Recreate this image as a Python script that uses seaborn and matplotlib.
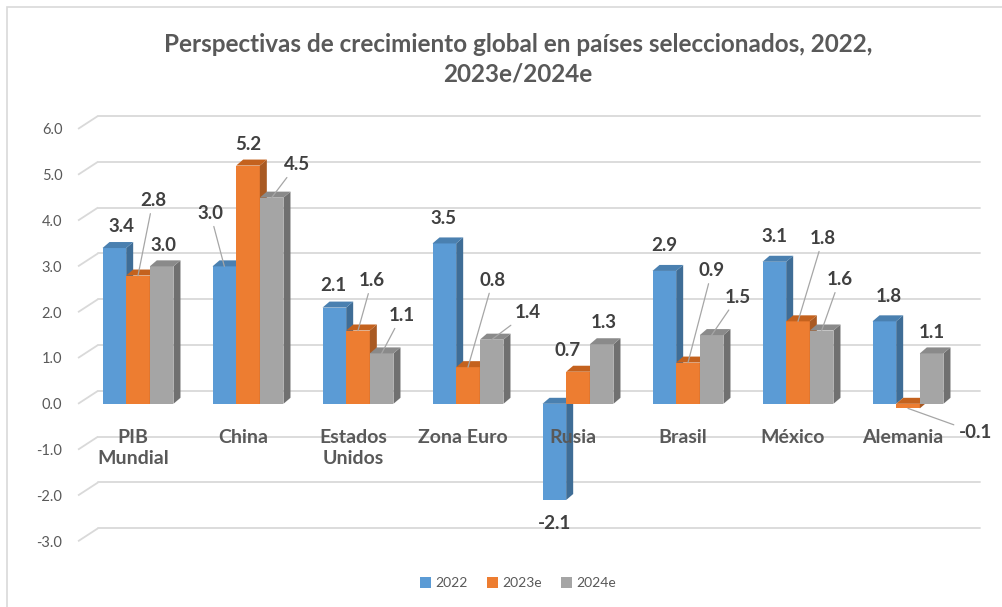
import matplotlib
matplotlib.use("Agg")
import matplotlib.pyplot as plt
from matplotlib.patches import Polygon, Rectangle
import seaborn as sns
import pandas as pd

# ---------------- data ----------------
categories = ["PIB\nMundial", "China", "Estados\nUnidos", "Zona Euro", "Rusia",
              "Brasil", "México", "Alemania"]
series_names = ["2022", "2023e", "2024e"]
v2022 = [3.4, 3.0, 2.1, 3.5, -2.1, 2.9, 3.1, 1.8]
v2023 = [2.8, 5.2, 1.6, 0.8, 0.7, 0.9, 1.8, -0.1]
v2024 = [3.0, 4.5, 1.1, 1.4, 1.3, 1.5, 1.6, 1.1]
yticks = [-3.0, -2.0, -1.0, 0.0, 1.0, 2.0, 3.0, 4.0, 5.0, 6.0]
title = "Perspectivas de crecimiento global en países seleccionados, 2022,\n2023e/2024e"

# label offsets (pixels) relative to bar end, and leader flag
label_offsets = {
    "2022":  [(7, -22, 0), (-14, -53, 1), (-1, -22, 0), (-1, -25, 0), (0, 23, 0),
              (0, -25, 0), (0, -25, 0), (4, -25, 0)],
    "2023e": [(15, -75, 1), (0, -21, 0), (14, -50, 1), (25, -87, 1), (-10, -21, 0),
              (24, -92, 1), (25, -83, 1), (67, 24, 1)],
    "2024e": [(2, -21, 0), (25, -33, 1), (20, -38, 1), (36, -27, 1), (2, -22, 0),
              (26, -38, 1), (18, -51, 1), (0, -21, 0)],
}

colors = {"2022": "#5B9BD5", "2023e": "#ED7D31", "2024e": "#A5A5A5"}
side_colors = {"2022": "#3F6D96", "2023e": "#A95A23", "2024e": "#707070"}
top_colors = {"2022": "#4A80B0", "2023e": "#C4621E", "2024e": "#8A8A8A"}
text_col = "#404040"
axis_text = "#595959"
grid_col = "#D9D9D9"

df = pd.DataFrame({
    "cat": sum([[c] * 3 for c in categories], []),
    "serie": series_names * len(categories),
    "val": sum([[a, b, c] for a, b, c in zip(v2022, v2023, v2024)], []),
})

sns.set_theme(style="white")
plt.rcParams["font.family"] = ["Lato", "DejaVu Sans"]

fig = plt.figure(figsize=(10.03, 6.07), dpi=100)
ax = fig.add_axes([72 / 1003, 52 / 607, (990.5 - 72) / 1003, 449 / 607])

sns.barplot(data=df, x="cat", y="val", hue="serie", order=categories,
            hue_order=series_names, palette=colors, width=0.645,
            saturation=1, ax=ax, legend=False, errorbar=None,
            edgecolor="none", linewidth=0)

ax.set_xlim(-0.6, 7.75)
ax.set_ylim(-3.3, 6.5)

# 3D illusion parameters (data units)
dx = 7 / 110.0
dy = 6 / 45.8
gdx = 20 / 110.0
gdy = 13 / 45.8

# back-wall gridlines + floor diagonals
for t in yticks:
    ax.plot([-0.545, -0.545 + gdx], [t, t + gdy], color=grid_col, lw=1.3, zorder=0.5,
            clip_on=False, solid_capstyle="butt")
    ax.plot([-0.545 + gdx, 7.65], [t + gdy, t + gdy], color=grid_col, lw=1.3,
            zorder=0.5, clip_on=False)

# 3D faces
for h, (name, cont) in enumerate(zip(series_names, ax.containers)):
    zf = 3 + 2 * h
    for bar in cont:
        bar.set_zorder(zf)
        x0 = bar.get_x()
        x1 = x0 + bar.get_width()
        y0 = min(bar.get_y(), bar.get_y() + bar.get_height())
        y1 = max(bar.get_y(), bar.get_y() + bar.get_height())
        side = Polygon([(x1, y0), (x1 + dx, y0 + dy), (x1 + dx, y1 + dy), (x1, y1)],
                       closed=True, facecolor=side_colors[name], edgecolor="none",
                       zorder=zf + 0.5)
        top = Polygon([(x0, y1), (x0 + dx, y1 + dy), (x1 + dx, y1 + dy), (x1, y1)],
                      closed=True, facecolor=top_colors[name], edgecolor="none",
                      zorder=zf + 0.5)
        ax.add_patch(side)
        ax.add_patch(top)

# value labels
for name, cont in zip(series_names, ax.containers):
    vals = {"2022": v2022, "2023e": v2023, "2024e": v2024}[name]
    for i, bar in enumerate(cont):
        v = vals[i]
        xc = bar.get_x() + bar.get_width() / 2
        yend = bar.get_y() + bar.get_height()
        ox, oy, leader = label_offsets[name][i]
        kw = dict(xy=(xc, yend), xytext=(ox, -oy), textcoords="offset pixels",
                  ha="center", va="center", fontsize=13.5, fontweight="bold",
                  color=text_col, zorder=20)
        if leader:
            kw["arrowprops"] = dict(arrowstyle="-", color="#A6A6A6", lw=0.9,
                                    shrinkA=1, shrinkB=0)
        ax.annotate(f"{v:.1f}", **kw)

# category labels
for i, c in enumerate(categories):
    ax.annotate(c, xy=(i, 0), xytext=(-5, -25), textcoords="offset pixels",
                ha="center", va="top", fontsize=14, fontweight="bold",
                color=axis_text, linespacing=1.3, zorder=25)

ax.set_xticks([])
ax.set_yticks(yticks)
ax.set_yticklabels([f"{t:.1f}" for t in yticks], color=axis_text, fontsize=10.5)
ax.tick_params(axis="y", length=0, pad=7)
ax.set_xlabel("")
ax.set_ylabel("")
for s in ax.spines.values():
    s.set_visible(False)
ax.patch.set_alpha(0)

# title
fig.text(518 / 1003, 1 - 59 / 607, title, ha="center", va="center", fontsize=17.5,
         fontweight="bold", color=axis_text, linespacing=1.35)

# legend
handles = [Rectangle((0, 0), 1, 1, facecolor=colors[n], edgecolor="none")
           for n in series_names]
fig.legend(handles, series_names, loc="center", bbox_to_anchor=(518 / 1003, 1 - 583 / 607),
           ncol=3, frameon=False, fontsize=10, handlelength=0.8, handleheight=0.8,
           handletextpad=0.3, columnspacing=1.4, labelcolor=axis_text)

# chart border
fig.add_artist(Rectangle((7 / 1003, -0.05), 1.1, 1 - 7 / 607 + 0.05,
                         transform=fig.transFigure, facecolor="none",
                         edgecolor="#D9D9D9", lw=1.2))

fig.savefig("out.png", dpi=100, facecolor="white")
